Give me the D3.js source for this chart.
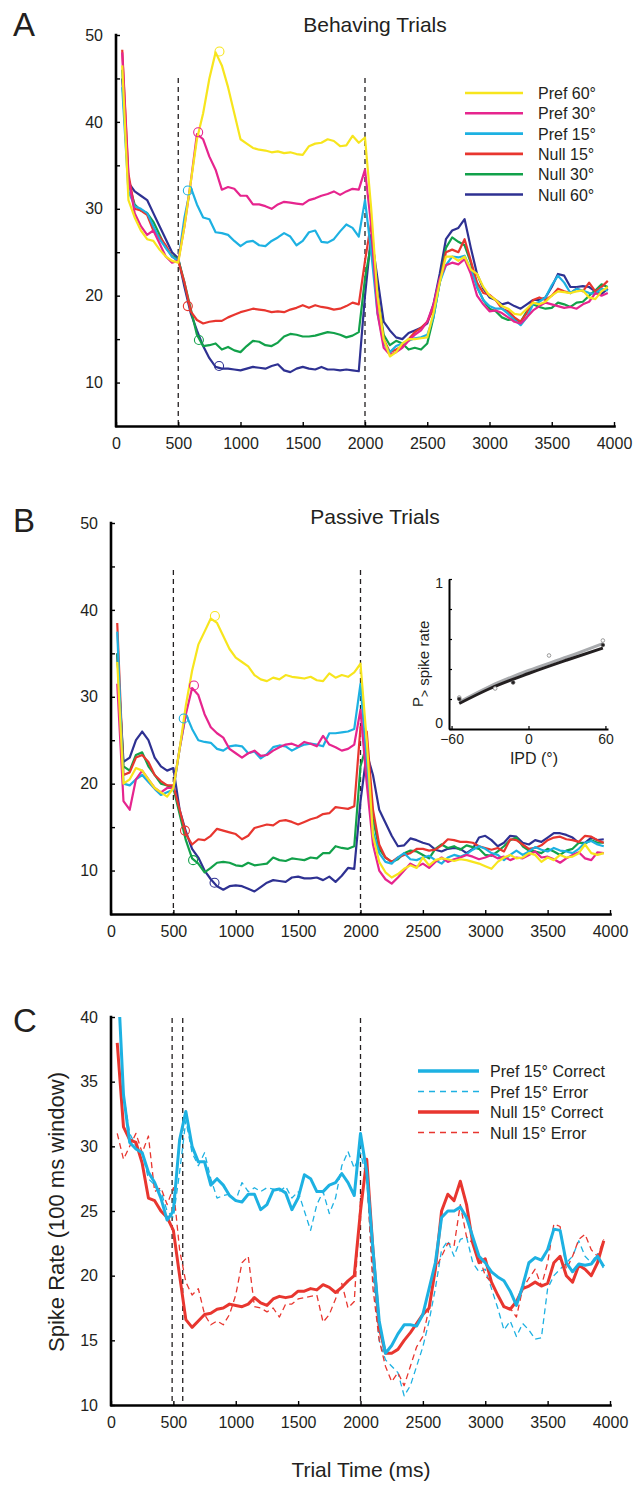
<!DOCTYPE html>
<html>
<head>
<meta charset="utf-8">
<script src="https://cdn.jsdelivr.net/npm/d3@7"></script>
<style>
  body { margin: 0; background: #fff; }
  svg { display: block; font-family: "Liberation Sans", Arial, Helvetica, sans-serif; }
  text { fill: #231f20; }
</style>
</head>
<body>
<svg id="fig" width="642" height="1485"></svg>
<script>
// sample times (ms), shared by every trace
var times = [50,100,150,200,250,300,350,400,450,500,
  550,600,650,700,750,800,850,900,950,1000,
  1050,1100,1150,1200,1250,1300,1350,1400,1450,1500,
  1550,1600,1650,1700,1750,1800,1850,1900,1950,2000,
  2050,2100,2150,2200,2250,2300,2350,2400,2450,2500,
  2550,2600,2650,2700,2750,2800,2850,2900,2950,3000,
  3050,3100,3150,3200,3250,3300,3350,3400,3450,3500,
  3550,3600,3650,3700,3750,3800,3850,3900,3950];

var conditions = ["Pref 60°","Pref 30°","Pref 15°","Null 15°","Null 30°","Null 60°"];
var condColors = ["#f7e51d","#e6258e","#1db1e2","#e8362f","#12a14a","#2e3192"];

// Panel A - behaving trials
var behPref60 = [46.5,31,29,27.5,26.5,26.3,25.3,24.5,24,23.8,
  28,33,38,41,45,48,46.5,44,41,38,
  37.5,37,36.8,36.7,36.5,36.6,36.4,36.5,36.3,36.2,
  37.2,37.5,37.6,38,37.8,37.2,37.3,38.4,37.6,38.2,
  30,20,15,13,13.5,14.5,15,15,15.1,15.2,
  18,21.5,24.5,24.5,24,24.5,23,22.5,21,20,
  19.5,18.8,18.5,17.9,17.8,18.5,19.2,19,19.3,20,
  20.5,20.4,20.3,20.5,20.6,19.8,19.6,20.5,21];
var behPref30 = [48,33.5,29.5,28,27,27.5,26,24.5,23.8,24,
  28,33,38.6,38,36,34.5,32.2,32.5,32.3,31.5,
  31.5,30.5,30.5,30.3,30,30.5,30.8,30.7,30.6,30.5,
  31,31.2,31.5,31.7,32,31.6,32,32.3,32.2,34.5,
  28,18,14,13.2,13.5,14,14.8,15.5,16,17,
  19,22,23.5,23.8,23.6,24.2,22.5,20,19,18.2,
  18.3,18,17.5,17,16.8,17.5,18.3,18.8,19.2,19,
  18.8,18.6,18.7,18.5,19,19.3,20.3,20,20.3];
var behPref15 = [44,32,30.3,30,29.5,28,26.5,25.5,24.5,24,
  29,32.5,30.5,29,28.8,27.3,27.2,27,26.3,25.7,
  26.2,26.3,25.8,25.7,26.3,26.7,27.2,26.8,25.8,26.3,
  27.3,27.5,26.2,26.1,26.5,27.4,28.2,27.8,26.8,31,
  25,18,14.5,13.5,14.2,14.5,14.8,15.1,15.2,15.5,
  17.5,21.5,23.5,24.5,24.4,24.6,23,21,19.5,18.8,
  18.5,18.5,17.9,17.2,16.6,17.5,19,19.3,19.8,21.2,
  22.3,21.5,20.3,20.8,20.6,20.3,20.2,20.8,20.6];
var behNull15 = [48.3,34,30,29.8,29.3,27.5,26.8,25.8,24.5,24,
  21.5,18.2,17.2,16.8,17,17.1,17.1,17.5,17.8,18.1,
  18.3,18.5,18.4,18.3,18.1,18.2,18.1,18.4,18.6,18.9,
  18.6,18.9,18.7,18.6,18.4,18.5,18.8,19.2,19,24,
  28.5,20,15,13.5,13.8,14.2,15,15.8,16.3,17,
  18.5,21.5,25,25.3,25,26.5,24,21.5,20.3,20.1,
  19.5,18.5,18.2,17.5,17,18,19.5,19.8,19.5,20,
  20.8,20.5,20.3,20.8,20.5,21.5,20.5,21,21.7];
var behNull30 = [46,33,30.5,29.8,29.5,28.5,27,25.5,24.6,24.2,
  21.5,18.5,15.5,14.2,14.3,14.5,13.8,14.1,13.7,13.5,
  14.2,14.8,14.7,14.3,14.2,14.6,15.3,15.6,15.5,15.3,
  15.3,15.4,15.6,15.8,15.7,15.5,15.2,15.4,15.8,22,
  26,20,15.5,14.3,14.8,14.5,13.8,14,13.8,14.5,
  17.5,21.5,25.5,26.7,26.2,25.8,23.8,21,19.5,18.5,
  18.2,17.5,17.2,17.3,17,18.2,19,18.7,18.5,18.6,
  19.2,19,18.7,19.2,19.3,20,20.6,21.3,21];
var behNull60 = [45,33,32,31.5,31,29.5,28,26.5,25,24.3,
  21,18,16,14.2,12.8,11.8,11.6,11.6,11.5,11.4,
  11.6,11.8,11.7,11.6,11.9,12.1,11.4,11.2,11.6,11.8,
  11.6,11.5,11.8,11.5,11.5,11.4,11.5,11.4,11.3,20,
  27,22,17,16,15.2,15,15.7,16,16.3,16.8,
  19,22.5,26.5,27.5,27.8,28.8,25.5,22.5,20.8,19.8,
  19.5,19,19.2,18.8,18.5,19,19.5,19.5,19.8,21,
  22.5,22.3,21,21,21.1,21,20.5,20.2,20.8];
// onset markers (time, rate) per condition
var behMarkT = [831,660,577,577,666,828];
var behMarkV = [48.1,38.8,32.1,18.8,14.9,11.9];

// Panel B - passive trials
var pasPref60 = [34,20,20.5,21.8,21.5,20.5,19.5,19,18.5,19.5,
  24,29,33,36,37.5,39,38.5,37,35.5,34.5,
  34,33.5,32.5,32,31.8,32.2,32,32.5,32.3,32.2,
  32.1,32.3,31.9,31.8,32.7,32.2,32.5,32.3,32.8,33.8,
  25,14,11,9.8,9.2,9.6,10.2,10.6,10.3,11.5,
  10.6,11.2,11.4,11.3,11.1,11.3,11.2,11,10.8,10.5,
  10.2,11,11.5,11.8,11.4,11.5,12,11.8,11,11.5,
  11.2,11.8,11.5,11.6,12,13,12,11.8,12];
var pasPref30 = [31.5,18,17,20.5,21.5,20.5,19.5,19,19.5,19.5,
  24,28,31,30.2,28,26.5,25.8,25.3,24,23.5,
  23,23.5,23.8,23.2,23.3,23.8,24.2,24.5,24.6,24.3,
  24.8,24.6,24.3,25.5,24.5,24.2,23.8,24,24.5,28.5,
  20,13,10,9,8.5,9.2,10,10.8,10.4,10.8,
  10.3,11,11.5,11,11.3,11.5,11.8,11.6,11.3,11.5,
  11.8,11.4,11.6,11.2,11.5,11.4,11.8,12.2,11.5,11.6,
  11.3,10.9,11.4,11.8,12.1,11.4,11.2,12.1,12];
var pasPref15 = [37.5,20,19.8,20.5,21,20.2,19.4,18.7,19,19.3,
  24,28,26.3,25,24.8,24.7,24,23.8,24.3,24.4,
  24.3,23.5,23.7,22.9,23.4,24.2,24.4,24.3,23.8,24.2,
  24.5,24.6,24.5,24.3,25.8,25.8,25.9,26,26.3,31.5,
  22,14.5,12,11,10.8,11.5,12,11.3,11.2,11.5,
  11.7,11.2,10.8,11.5,11.8,11.6,11.9,12.4,12.8,12.5,
  12,11.8,11.2,11.8,12.3,11.8,12.2,12.7,12.4,12.2,
  12.6,12.3,12.2,12,12.5,13.2,13.4,13,12.8];
var pasNull15 = [38.5,21,21.3,23,23.3,22.5,21,20.3,19.8,19.8,
  17,14.2,13,13.6,13.5,14,14.8,14.6,14.4,14.2,
  13.6,14,14.9,15.1,15.3,15.2,15.7,15.8,15.6,15.3,
  15.6,15.9,16.1,16.5,16.6,17.3,17.2,17.1,17.4,26.5,
  26,17,13,11.5,11,11.5,11.8,12,12.5,12.5,
  12.3,12.4,12.9,13.6,13.5,13.3,13.3,13.2,12.8,12.6,
  12.4,12.6,12.2,13.6,13.5,13,12.5,12.6,12.9,13.5,
  13.8,13.9,13.6,13.5,13.3,14,13.9,13.5,13.2];
var pasNull30 = [35,22,21.5,23.3,23.6,22,21,20,19.8,19.5,
  16.5,13.5,11.4,10.8,9.8,10.3,10.9,11,10.9,10.6,
  10.5,10.9,10.6,10.7,10.8,11.5,11.2,11.1,11.4,11.3,
  11.2,11.5,11.4,12,12,12.8,12.6,12.5,12.8,22,
  24.5,16,12.5,11.5,11,11.3,12,12.3,12.2,11.8,
  11.4,12.5,13,12.6,12.8,12.4,12.9,12.7,12.5,11.8,
  11.7,12.2,12.8,13.5,13.8,12.8,12.3,12.2,12,12.5,
  12.2,11.8,12.3,12.5,13.2,13.1,13.5,13.2,13.2];
var pasNull60 = [35,22.5,23,25,26,25,23,22,21.5,21.8,
  17,14.5,12.5,11.5,10,9,8.2,7.8,8.2,8.3,
  8.2,7.9,7.6,8.1,8.6,8.9,8.8,8.7,9.2,9.3,
  9.1,9.1,9.2,8.9,9.3,8.7,9.4,10.3,10.2,18,
  23.5,21,17,15.5,14,12.8,12.9,13.7,13.5,13.2,
  13,12.4,12.2,12.5,12.6,12.5,12,12.5,13.8,14,
  13.5,12.8,13.2,14,13.9,13.2,13,13.5,13.3,13.8,
  14.3,14.3,14.1,13.8,13.2,13.2,13.8,13.5,13.6];
var pasMarkT = [833,665,583,593,658,830];
var pasMarkV = [39.3,31.3,27.5,14.6,11.2,8.6];

// inset: P(> spike rate) vs IPD
var insetFitX = [-54,-30,0,30,58];
var insetFitBeh = [0.17,0.27,0.37,0.46,0.54];
var insetFitPas = [0.18,0.285,0.39,0.48,0.57];
var insetPasX = [-54,-26,16,58];
var insetPasY = [0.21,0.27,0.49,0.59];
var insetBehX = [-54,-12,58];
var insetBehY = [0.2,0.31,0.56];

// Panel C - correct vs error, 15 deg
var outcomeNames = ["Pref 15° Correct","Pref 15° Error","Null 15° Correct","Null 15° Error"];
var prefCorrect = [44,34,30.3,29.8,29.5,28,27.2,26,24.3,25,
  30.5,32.7,30,28.8,28.8,27,27.5,27,26.2,25.8,
  25.7,26.3,26.3,25.1,25.5,26.6,26.7,26.4,25.1,26,
  27.8,27.5,26.5,26.5,27,27.2,27.9,27.2,26.2,31,
  28,22,16.5,14,14.6,15.5,16.2,16.2,16.1,17,
  19,21,24.5,25,25,25.3,24.5,23,21.5,21,
  20.3,19.9,19.6,18.8,17.7,19.2,21,21.4,21.2,22,
  23.6,23.5,21,20.3,20.9,20.8,20.9,21.5,20.7];
var prefError = [44,34,31,30,29.5,27.5,27,26.5,25,24.5,
  28,32,29.5,28.5,29.5,27.5,26,26.2,26.3,25.8,
  27.2,26.5,26.8,26.5,26.8,26.7,26.5,26.9,26,26.5,
  25,23.5,25.5,26.5,24.8,26,28.5,29.6,28.3,29.5,
  27.5,20,15,13.5,13,12.5,10.7,11.5,13,14.5,
  16.5,19,22,22.7,21.5,22.8,23,21,20.3,20.5,
  19,17.5,15.8,16.5,15.3,16.3,15.8,15.1,15.2,19,
  20,20.5,21,21.5,22.7,21.5,21,21.7,20.5];
var nullCorrect = [38,31.5,30.5,30.3,28.7,26,25.8,25,24.5,23.5,
  20,16.6,16,16.5,17,17.1,17.4,17.5,17.8,17.7,
  17.6,17.8,18.3,17.9,17.7,18.2,18.4,18.3,18.4,18.8,
  18.8,19,18.9,19.3,19.1,18.7,19.1,19.6,20,25,
  29,22,16,14,14,14.3,15,15.6,16.3,17,
  17.5,20.5,25,26.3,25.8,27.3,25.5,22.5,21,21.3,
  19.5,18.5,17.6,17.4,18,19,19.2,19.5,19.2,19.4,
  21,21.5,20,19.5,20.8,20.5,20,21,22.7];
var nullError = [31,29,30,31,29.5,30.8,26.5,26.8,25.5,26.8,
  22,19.5,18.5,19,17,16.2,16.5,16.2,17,18.5,
  21,21.5,17.6,17.5,17.2,17.5,16.8,17.8,17.8,18.2,
  18.3,18.4,18.5,16.4,17,18.2,19.4,17.5,18,26,
  28,19,15,13,11.8,12.5,11.5,13,14.5,15.3,
  17.5,20.5,21.5,22.5,22.3,25.5,23,22.5,21.5,20,
  19.5,18.5,17.5,17.5,16.8,19,19.8,20.5,19.2,21,
  24,23.8,20.5,21.5,22.8,23.2,22,21.5,22.8];

var xTicks = [0,500,1000,1500,2000,2500,3000,3500,4000];
var abYTicks = [10,15,20,25,30,35,40,45,50];
var cYTicks = [10,15,20,25,30,35,40];

var svg = d3.select("#fig");

function drawPanel(p) {
  var x = d3.scaleLinear().domain([0, 4000]).range([p.left, p.right]);
  var y = d3.scaleLinear().domain(p.yDomain).range([p.bottom, p.top]);

  var clipId = "clip" + p.letter;
  svg.append("clipPath").attr("id", clipId)
    .append("rect")
    .attr("x", p.left).attr("y", p.top)
    .attr("width", p.right - p.left).attr("height", p.bottom - p.top);

  // event markers
  p.events.forEach(function (t) {
    svg.append("line")
      .attr("x1", x(t)).attr("x2", x(t))
      .attr("y1", p.dashTop).attr("y2", p.bottom)
      .attr("stroke", "#231f20").attr("stroke-width", 1.3)
      .attr("stroke-dasharray", "5,4");
  });

  var g = svg.append("g").attr("clip-path", "url(#" + clipId + ")");
  var line = d3.line()
    .x(function (d, i) { return x(times[i]); })
    .y(function (d) { return y(d); });

  p.series.forEach(function (s) {
    g.append("path")
      .datum(s.values)
      .attr("fill", "none")
      .attr("stroke", s.color)
      .attr("stroke-width", s.width)
      .attr("stroke-dasharray", s.dash || null)
      .attr("stroke-linejoin", "round")
      .attr("d", line);
  });

  if (p.markT) {
    p.markT.forEach(function (t, i) {
      svg.append("circle")
        .attr("cx", x(t)).attr("cy", y(p.markV[i]))
        .attr("r", 4.5)
        .attr("fill", "none")
        .attr("stroke", condColors[i]).attr("stroke-width", 1.1);
    });
  }

  // axes, MATLAB style ticks inward
  var xAxis = d3.axisBottom(x).tickValues(xTicks)
    .tickSizeInner(-4).tickSizeOuter(0).tickPadding(11.5)
    .tickFormat(d3.format("d"));
  var gx = svg.append("g").attr("transform", "translate(0," + p.bottom + ")").call(xAxis);

  var yAxis = d3.axisLeft(y).tickValues(p.yTicks)
    .tickSizeInner(-4).tickSizeOuter(0).tickPadding(13)
    .tickFormat(function (d) { return p.labelEvery(d) ? d : ""; });
  var gy = svg.append("g").attr("transform", "translate(" + p.left + ",0)").call(yAxis);

  [gx, gy].forEach(function (a) {
    a.select(".domain").attr("stroke", "#000").attr("stroke-width", 2.6)
      .attr("stroke-linecap", "square");
    a.selectAll(".tick line").attr("stroke", "#000").attr("stroke-width", 1.4);
    a.selectAll(".tick text").attr("font-size", 16).attr("fill", "#231f20")
      .attr("font-family", "Liberation Sans, Arial, sans-serif");
  });
  // y-axis domain runs down to the x-axis corner
  gy.select(".domain").attr("d", "M0," + p.bottom + "V" + p.top);

  svg.append("text")
    .attr("x", 13).attr("y", p.letterY)
    .attr("font-size", 33)
    .text(p.letter);

  if (p.title) {
    svg.append("text")
      .attr("x", 375).attr("y", p.titleY)
      .attr("text-anchor", "middle")
      .attr("font-size", 21)
      .text(p.title);
  }
  return { x: x, y: y };
}

var condA = [behPref60, behPref30, behPref15, behNull15, behNull30, behNull60];
var condB = [pasPref60, pasPref30, pasPref15, pasNull15, pasNull30, pasNull60];

// draw in back-to-front order (Null 60 first, Pref 60 last)
function condSeries(arr) {
  var out = [];
  for (var i = arr.length - 1; i >= 0; i--) {
    out.push({ values: arr[i], color: condColors[i], width: 2.2 });
  }
  return out;
}

drawPanel({
  letter: "A", letterY: 36, title: "Behaving Trials", titleY: 32,
  left: 116, right: 614, top: 35, bottom: 426, dashTop: 78,
  yDomain: [5, 50], yTicks: abYTicks,
  labelEvery: function (d) { return d % 10 === 0; },
  events: [500, 2000],
  series: condSeries(condA),
  markT: behMarkT, markV: behMarkV
});

drawPanel({
  letter: "B", letterY: 532, title: "Passive Trials", titleY: 524,
  left: 111, right: 610, top: 523, bottom: 914, dashTop: 570,
  yDomain: [5, 50], yTicks: abYTicks,
  labelEvery: function (d) { return d % 10 === 0; },
  events: [500, 2000],
  series: condSeries(condB),
  markT: pasMarkT, markV: pasMarkV
});

drawPanel({
  letter: "C", letterY: 1032, title: null,
  left: 111, right: 610, top: 1017, bottom: 1405, dashTop: 1018,
  yDomain: [10, 40], yTicks: cYTicks,
  labelEvery: function () { return true; },
  events: [490, 575, 2000],
  series: [
    { values: prefError, color: "#1db1e2", width: 1.3, dash: "6,4" },
    { values: nullError, color: "#e8362f", width: 1.3, dash: "6,4" },
    { values: nullCorrect, color: "#e8362f", width: 3 },
    { values: prefCorrect, color: "#1db1e2", width: 3 }
  ]
});

// legend A
var legA = svg.append("g");
conditions.forEach(function (c, i) {
  var yy = 93 + i * 20.3;
  legA.append("line").attr("x1", 465).attr("x2", 523).attr("y1", yy).attr("y2", yy)
    .attr("stroke", condColors[i]).attr("stroke-width", 2.6);
  legA.append("text").attr("x", 538).attr("y", yy + 6).attr("font-size", 16).text(c);
});

// legend C
var legColors = ["#1db1e2", "#1db1e2", "#e8362f", "#e8362f"];
var legC = svg.append("g");
outcomeNames.forEach(function (c, i) {
  var yy = 1071 + i * 20.5;
  var dashed = i % 2 === 1;
  legC.append("line").attr("x1", 418).attr("x2", 479).attr("y1", yy).attr("y2", yy)
    .attr("stroke", legColors[i]).attr("stroke-width", dashed ? 1.3 : 3.5)
    .attr("stroke-dasharray", dashed ? "6,5" : null);
  legC.append("text").attr("x", 490).attr("y", yy + 6).attr("font-size", 16).text(c);
});

// axis titles panel C
svg.append("text")
  .attr("transform", "translate(64,1212) rotate(-90)")
  .attr("text-anchor", "middle").attr("font-size", 22)
  .text("Spike Rate (100 ms window)");
svg.append("text")
  .attr("x", 361).attr("y", 1477)
  .attr("text-anchor", "middle").attr("font-size", 21)
  .text("Trial Time (ms)");

// inset in panel B
var ix = d3.scaleLinear().domain([-62, 62]).range([449, 608]);
var iy = d3.scaleLinear().domain([0, 1]).range([729, 579]);
var ins = svg.append("g");
var fitLine = d3.line()
  .x(function (d, i) { return ix(insetFitX[i]); })
  .y(function (d) { return iy(d); })
  .curve(d3.curveMonotoneX);
ins.append("path").datum(insetFitPas).attr("d", fitLine)
  .attr("fill", "none").attr("stroke", "#a9abae").attr("stroke-width", 3);
ins.append("path").datum(insetFitBeh).attr("d", fitLine)
  .attr("fill", "none").attr("stroke", "#231f20").attr("stroke-width", 3);
insetPasX.forEach(function (v, i) {
  ins.append("circle").attr("cx", ix(v)).attr("cy", iy(insetPasY[i])).attr("r", 1.8)
    .attr("fill", "#fff").attr("stroke", "#9a9a9a").attr("stroke-width", 1);
});
insetBehX.forEach(function (v, i) {
  ins.append("circle").attr("cx", ix(v)).attr("cy", iy(insetBehY[i])).attr("r", 1.8)
    .attr("fill", "#231f20").attr("stroke", "#555").attr("stroke-width", 0.8);
});
var ixAxis = d3.axisBottom(ix).tickValues([-60, 0, 60])
  .tickSizeInner(-3).tickSizeOuter(0).tickPadding(5).tickFormat(d3.format("d"));
var iyAxis = d3.axisLeft(iy).tickValues([0, 0.2, 0.4, 0.6, 0.8, 1])
  .tickSizeInner(-3).tickSizeOuter(0).tickPadding(6)
  .tickFormat(function (d) { return d === 0 || d === 1 ? d : ""; });
var gix = ins.append("g").attr("transform", "translate(0,729)").call(ixAxis);
var giy = ins.append("g").attr("transform", "translate(449,0)").call(iyAxis);
[gix, giy].forEach(function (a) {
  a.select(".domain").attr("stroke", "#000").attr("stroke-width", 2);
  a.selectAll(".tick line").attr("stroke", "#000").attr("stroke-width", 1.2);
  a.selectAll(".tick text").attr("font-size", 14).attr("fill", "#231f20")
    .attr("font-family", "Liberation Sans, Arial, sans-serif");
});
giy.selectAll(".tick text").attr("dy", function (d) { return d === 0 ? "-0.1em" : "0.6em"; });
ins.append("text").attr("x", 534).attr("y", 764).attr("text-anchor", "middle")
  .attr("font-size", 16).text("IPD (°)");
var yl = ins.append("text").attr("transform", "translate(423,707) rotate(-90)")
  .attr("font-size", 15);
yl.append("tspan").text("P");
yl.append("tspan").attr("dy", 6).attr("font-size", 12).text(">");
yl.append("tspan").attr("font-size", 15).text(" spike rate");
</script>
</body>
</html>
